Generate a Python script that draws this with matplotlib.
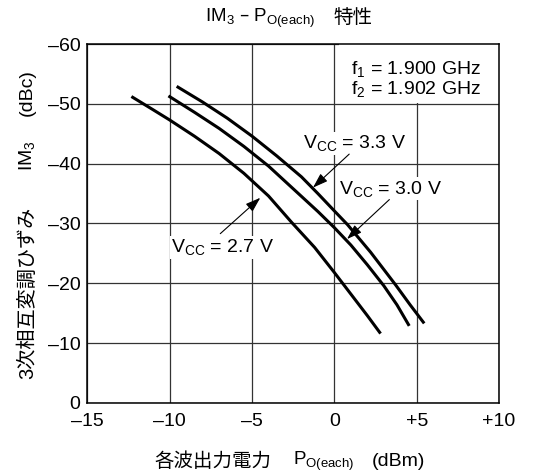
import matplotlib
matplotlib.use("Agg")
import matplotlib.pyplot as plt
from matplotlib.patches import Rectangle

plt.rcParams['font.family'] = ['Liberation Sans', 'Noto Sans CJK JP', 'DejaVu Sans']
plt.rcParams['mathtext.default'] = 'regular'
plt.rcParams['font.size'] = 14

# 読み取り値 (各波出力電力 dBm, IM3 dBc)
p_27 = [-12.25, -11.0, -10.0, -8.5, -7.0, -5.5, -4.0, -2.6, -1.2, 0.0, 1.0, 2.0, 2.75]
im3_27 = [-51.1, -49.0, -47.3, -44.6, -41.7, -38.4, -34.6, -30.2, -26.0, -21.8, -18.2, -14.6, -11.8]

p_30 = [-10.0, -8.5, -7.0, -5.5, -4.0, -2.5, -1.0, 0.0, 1.0, 2.0, 3.0, 3.8, 4.5]
im3_30 = [-51.2, -48.6, -45.9, -42.9, -39.6, -35.8, -32.0, -29.3, -26.4, -23.1, -19.6, -16.4, -13.1]

p_33 = [-9.5, -8.0, -6.5, -5.0, -3.5, -2.0, -1.0, 0.0, 0.8, 2.2, 3.7, 4.6, 5.4]
im3_33 = [-52.8, -50.3, -47.6, -44.6, -41.3, -37.8, -35.0, -32.1, -29.8, -25.2, -19.8, -16.4, -13.5]

x_ticks = [-15, -10, -5, 0, 5, 10]
x_ticklabels = ['–15', '–10', '–5', '0', '+5', '+10']
y_ticks = [0, -10, -20, -30, -40, -50, -60]
y_ticklabels = ['0', '–10', '–20', '–30', '–40', '–50', '–60']

fig = plt.figure(figsize=(5.43, 4.74), dpi=100)
ax = fig.add_axes([0.161, 0.150, 0.758, 0.757])

ax.plot(p_27, im3_27, color='black', lw=2.2, zorder=3)
ax.plot(p_30, im3_30, color='black', lw=2.2, zorder=3)
ax.plot(p_33, im3_33, color='black', lw=2.2, zorder=3)

ax.set_xlim(-15, 10)
ax.set_ylim(0, -60)
ax.set_xticks(x_ticks)
ax.set_xticklabels(x_ticklabels)
ax.set_yticks(y_ticks)
ax.set_yticklabels(y_ticklabels)
ax.tick_params(length=0, labelsize=14)
ax.tick_params(axis='y', pad=5)
ax.tick_params(axis='x', pad=7)
ax.grid(True, color='#333333', lw=0.9)
ax.set_axisbelow(True)
for s in ax.spines.values():
    s.set_linewidth(1.1)
    s.set_zorder(5)

# 周波数の注記 (白地で格子を隠す)
ax.add_patch(Rectangle((0.3, -60), 9.7, 9.8, facecolor='white', edgecolor='none', zorder=1.5))
ax.text(1.0, -54.2, 'f$_1$ = 1.900 GHz\nf$_2$ = 1.902 GHz', ha='left', va='center',
        fontsize=14, linespacing=1.0, zorder=4)

arrow = dict(arrowstyle='-|>,head_length=0.65,head_width=0.22', lw=0.8, color='black',
             mutation_scale=14, shrinkA=0, shrinkB=0)
box = dict(facecolor='white', edgecolor='none', pad=1)

ax.text(1.2, -43.4, 'V$_{CC}$ = 3.3 V', ha='center', va='center', fontsize=14, bbox=box, zorder=4)
ax.annotate('', xy=(-1.3, -36.0), xytext=(0.9, -41.6), arrowprops=arrow, zorder=4)

ax.text(3.4, -35.8, 'V$_{CC}$ = 3.0 V', ha='center', va='center', fontsize=14, bbox=box, zorder=4)
ax.annotate('', xy=(0.77, -27.4), xytext=(3.34, -34.0), arrowprops=arrow, zorder=4)

ax.text(-6.8, -26.0, 'V$_{CC}$ = 2.7 V', ha='center', va='center', fontsize=14, bbox=box, zorder=4)
ax.annotate('', xy=(-4.5, -34.3), xytext=(-6.93, -28.3), arrowprops=arrow, zorder=4)

# タイトル
fig.text(205 / 543, 0.962, 'IM$_3$ – P$_{O(each)}$', ha='left', va='center', fontsize=13.5)
fig.text(333 / 543, 0.962, '特性', ha='left', va='center', fontsize=14)

# x軸ラベル
fig.text(154 / 543, 0.026, '各波出力電力', ha='left', va='center', fontsize=14)
fig.text(293 / 543, 0.026, 'P$_{O(each)}$', ha='left', va='center', fontsize=13.5)
fig.text(372 / 543, 0.026, '(dBm)', ha='left', va='center', fontsize=14)

# y軸ラベル
fig.text(0.050, 1 - 379 / 474, '3次相互変調ひずみ', ha='center', va='bottom', rotation=90, fontsize=14.5)
fig.text(0.050, 1 - 156 / 474, 'IM$_3$', ha='center', va='center', rotation=90, fontsize=14)
fig.text(0.050, 1 - 93 / 474, '(dBc)', ha='center', va='center', rotation=90, fontsize=14)

fig.savefig('out.png', dpi=100)
